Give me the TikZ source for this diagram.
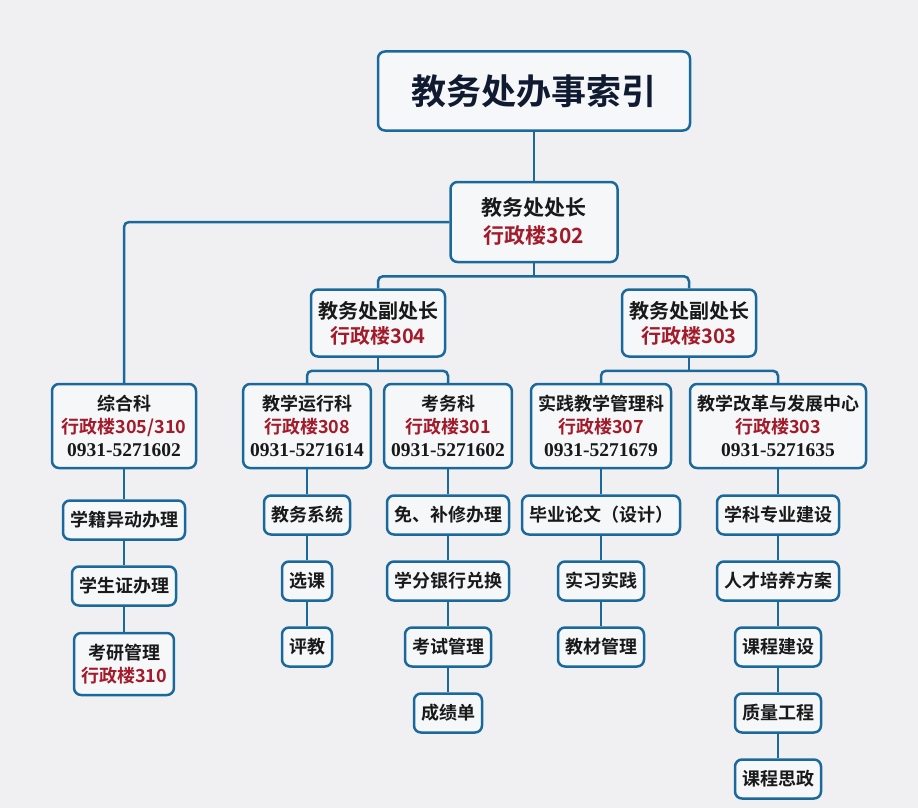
\documentclass[tikz,border=0pt]{standalone}
\usepackage{
	fontspec,			% System Fonts
	xcolor,				% Colours
	tikz
}
\setmainfont{Noto Sans CJK SC}[BoldFont={Noto Sans CJK SC Bold}]
\newfontfamily\telfont{Liberation Serif}
\definecolor{jwbg}{RGB}{240,240,242}
\definecolor{jwfill}{RGB}{245,247,249}
\definecolor{jwblue}{RGB}{27,105,155}
\definecolor{jwred}{RGB}{163,27,42}
\definecolor{jwnavy}{RGB}{16,26,48}
\newcommand\room[1]{\textcolor{jwred}{#1}}
\newcommand\tel[1]{{\telfont\bfseries\fontsize{19.5}{23}\selectfont #1}}

\begin{document}
\begin{tikzpicture}[x=1pt,y=-1pt,
		box/.style={draw=jwblue, fill=jwfill, line width=2.5pt, rounded corners=7pt,
			align=center, inner xsep=7pt, inner ysep=0pt, text=black!90,
			font=\bfseries\fontsize{18}{23}\selectfont},
		item/.style={box, minimum height=39pt},
		office/.style={box, minimum height=84pt},
		link/.style={draw=jwblue, line width=2.5pt, rounded corners=5pt}]
		\fill[jwbg] (0,0) rectangle (918,808);
		% top of the tree
		\node[box, minimum width=312pt, minimum height=79pt, text=jwnavy,
			font=\bfseries\fontsize{35}{40}\selectfont] (title) at (534,91) {教务处办事索引};
		\node[box, minimum width=167pt, minimum height=80pt,
			font=\bfseries\fontsize{21}{28}\selectfont] (chief) at (534,222) {教务处处长\\\room{行政楼302}};
		\node[box, minimum height=67pt, font=\bfseries\fontsize{20}{25}\selectfont] (vice1) at (378,323) {教务处副处长\\\room{行政楼304}};
		\node[box, minimum height=67pt, font=\bfseries\fontsize{20}{25}\selectfont] (vice2) at (689,323) {教务处副处长\\\room{行政楼303}};
		% offices
		\node[office, minimum width=144pt] (zonghe) at (124,426) {综合科\\\room{行政楼305/310}\\\tel{0931-5271602}};
		\node[office] (yunxing) at (307,426) {教学运行科\\\room{行政楼308}\\\tel{0931-5271614}};
		\node[office] (kaowu) at (448,426) {考务科\\\room{行政楼301}\\\tel{0931-5271602}};
		\node[office] (shijian) at (601,426) {实践教学管理科\\\room{行政楼307}\\\tel{0931-5271679}};
		\node[office] (gaige) at (778,426) {教学改革与发展中心\\\room{行政楼303}\\\tel{0931-5271635}};
		\draw[link] (title) -- (chief);
		\draw[link] (chief.west) -| (zonghe.north);
		\draw[link] (chief.south) -- ++(0,13) coordinate (fork0);
		\draw[link] (vice1.north) |- (fork0) -| (vice2.north);
		\draw[link] (vice1.south) -- ++(0,13) coordinate (fork1);
		\draw[link] (yunxing.north) |- (fork1) -| (kaowu.north);
		\draw[link] (vice2.south) -- ++(0,13) coordinate (fork2);
		\draw[link] (shijian.north) |- (fork2) -| (gaige.north);
		% tasks under each office
		\node[item] (zh1) at (124,520) {学籍异动办理};
		\node[item] (zh2) at (124,586) {学生证办理};
		\node[box, minimum height=62pt] (zh3) at (124,664) {考研管理\\\room{行政楼310}};
		\draw[link] (zonghe) -- (zh1) -- (zh2) -- (zh3);
		\foreach \txt [count=\i] in {教务系统,选课,评教}
			\node[item] (yx\i) at (307,{515+66*(\i-1)}) {\txt};
		\draw[link] (yunxing) -- (yx1) -- (yx2) -- (yx3);
		\foreach \txt [count=\i] in {免、补修办理,学分银行兑换,考试管理,成绩单}
			\node[item] (kw\i) at (448,{515+66*(\i-1)}) {\txt};
		\draw[link] (kaowu) -- (kw1) -- (kw2) -- (kw3) -- (kw4);
		\foreach \txt [count=\i] in {毕业论文（设计）,实习实践,教材管理}
			\node[item] (sj\i) at (601,{515+66*(\i-1)}) {\txt};
		\draw[link] (shijian) -- (sj1) -- (sj2) -- (sj3);
		\foreach \txt [count=\i] in {学科专业建设,人才培养方案,课程建设,质量工程,课程思政}
			\node[item] (gg\i) at (778,{515+66*(\i-1)}) {\txt};
		\draw[link] (gaige) -- (gg1) -- (gg2) -- (gg3) -- (gg4) -- (gg5);
	\end{tikzpicture}
\end{document}
